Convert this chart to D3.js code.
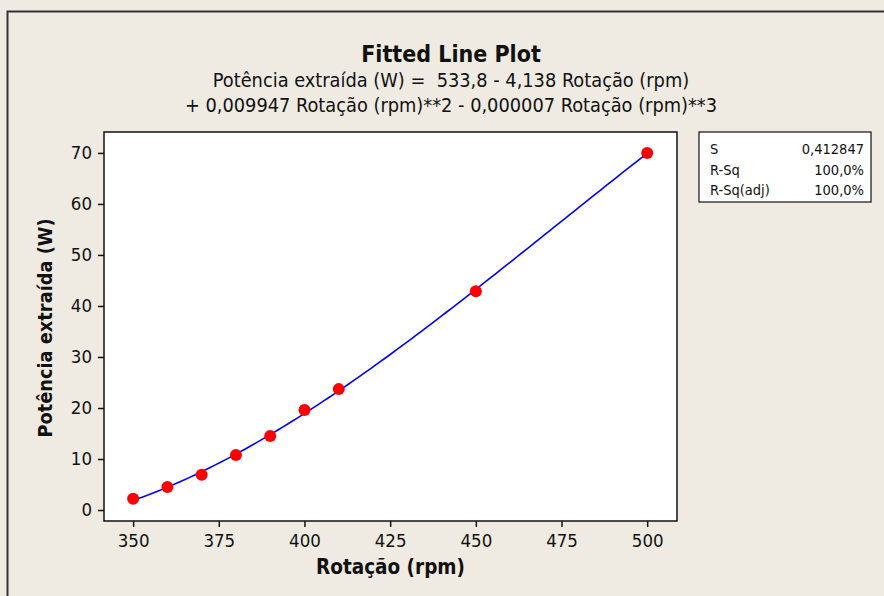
<!DOCTYPE html>
<html>
<head>
<meta charset="utf-8">
<script src="https://cdn.jsdelivr.net/npm/d3@7"></script>
<style>
  body { margin: 0; background: #efebe2; }
  svg { display: block; }
  .tick text { font-family: 'DejaVu Sans Condensed', 'DejaVu Sans', sans-serif; font-size: 18.5px; fill: #111; }
</style>
</head>
<body>
<div id="vis"></div>
<script>
// basic frame setup
const FRAME_WIDTH = 884;
const FRAME_HEIGHT = 596;
const MARGINS = {left: 104, right: 207, top: 132, bottom: 75};
const VIS_WIDTH = FRAME_WIDTH - MARGINS.left - MARGINS.right;
const VIS_HEIGHT = FRAME_HEIGHT - MARGINS.top - MARGINS.bottom;
const FONT = "'DejaVu Sans Condensed', 'DejaVu Sans', sans-serif";

// data
const rotacao = [350, 360, 370, 380, 390, 400, 410, 450, 500];
const potencia = [2.2, 4.5, 6.9, 10.8, 14.5, 19.6, 23.7, 42.9, 70.0];
const xTicks = [350, 375, 400, 425, 450, 475, 500];
const yTicks = [0, 10, 20, 30, 40, 50, 60, 70];
const statLabels = ['S', 'R-Sq', 'R-Sq(adj)'];
const statValues = ['0,412847', '100,0%', '100,0%'];

const FRAME = d3.select('#vis')
    .append('svg')
    .attr('width', FRAME_WIDTH)
    .attr('height', FRAME_HEIGHT);

// outer border (runs off the right and bottom edges)
FRAME.append('rect')
    .attr('x', 7.5).attr('y', 11.5)
    .attr('width', FRAME_WIDTH).attr('height', FRAME_HEIGHT)
    .attr('fill', '#efebe2')
    .attr('stroke', '#333').attr('stroke-width', 2);

const X_SCALE = d3.scaleLinear().domain([341.5, 508.7]).range([0, VIS_WIDTH]);
const Y_SCALE = d3.scaleLinear().domain([-2.15, 74.1]).range([VIS_HEIGHT, 0]);

const G = FRAME.append('g').attr('transform', 'translate(' + MARGINS.left + ',' + MARGINS.top + ')');

G.append('rect')
    .attr('width', VIS_WIDTH).attr('height', VIS_HEIGHT)
    .attr('fill', 'white');

// cubic least squares fit of the points (x centred for stability)
function cubicFit(xs, ys) {
    const n = 4;
    const A = [], b = [];
    for (let i = 0; i < n; i++) { A.push([0, 0, 0, 0]); b.push(0); }
    xs.forEach((x, k) => {
        const u = (x - 400) / 50;
        for (let i = 0; i < n; i++) {
            for (let j = 0; j < n; j++) A[i][j] += Math.pow(u, i + j);
            b[i] += ys[k] * Math.pow(u, i);
        }
    });
    for (let i = 0; i < n; i++) {
        for (let r = i + 1; r < n; r++) {
            const f = A[r][i] / A[i][i];
            for (let c = i; c < n; c++) A[r][c] -= f * A[i][c];
            b[r] -= f * b[i];
        }
    }
    const coef = [0, 0, 0, 0];
    for (let i = n - 1; i >= 0; i--) {
        let s = b[i];
        for (let c = i + 1; c < n; c++) s -= A[i][c] * coef[c];
        coef[i] = s / A[i][i];
    }
    return (x) => {
        const u = (x - 400) / 50;
        return coef[0] + coef[1] * u + coef[2] * u * u + coef[3] * u * u * u;
    };
}
const fit = cubicFit(rotacao, potencia);
const fitX = d3.range(350, 500.01, 1.5);

G.append('path')
    .datum(fitX)
    .attr('d', d3.line().x((d) => X_SCALE(d)).y((d) => Y_SCALE(fit(d))))
    .attr('fill', 'none')
    .attr('stroke', '#0000ff')
    .attr('stroke-width', 1.6);

G.selectAll('points')
    .data(rotacao)
    .enter()
    .append('circle')
    .attr('cx', (d) => X_SCALE(d))
    .attr('cy', (d, i) => Y_SCALE(potencia[i]))
    .attr('r', 6)
    .attr('fill', '#ff0000');

// plot border
G.append('rect')
    .attr('width', VIS_WIDTH).attr('height', VIS_HEIGHT)
    .attr('fill', 'none')
    .attr('stroke', '#111').attr('stroke-width', 1.5);

// axes
G.append('g')
    .attr('transform', 'translate(0,' + VIS_HEIGHT + ')')
    .call(d3.axisBottom(X_SCALE).tickValues(xTicks).tickSize(6).tickPadding(7))
    .call((g) => g.select('.domain').remove())
    .call((g) => g.selectAll('.tick line').attr('stroke', '#111').attr('stroke-width', 1.5));

G.append('g')
    .call(d3.axisLeft(Y_SCALE).tickValues(yTicks).tickSize(6).tickPadding(6))
    .call((g) => g.select('.domain').remove())
    .call((g) => g.selectAll('.tick line').attr('stroke', '#111').attr('stroke-width', 1.5));

// titles
const TITLE_X = 451;
FRAME.append('text')
    .attr('x', TITLE_X).attr('y', 62)
    .attr('text-anchor', 'middle')
    .attr('font-family', FONT).attr('font-size', '23px').attr('font-weight', 'bold')
    .attr('fill', '#111')
    .text('Fitted Line Plot');

FRAME.append('text')
    .attr('x', TITLE_X).attr('y', 87)
    .attr('text-anchor', 'middle')
    .attr('font-family', FONT).attr('font-size', '19.8px')
    .attr('fill', '#111')
    .attr('xml:space', 'preserve')
    .text('Potência extraída (W) =  533,8 - 4,138 Rotação (rpm)');

FRAME.append('text')
    .attr('x', TITLE_X).attr('y', 112)
    .attr('text-anchor', 'middle')
    .attr('font-family', FONT).attr('font-size', '19.8px')
    .attr('fill', '#111')
    .text('+ 0,009947 Rotação (rpm)**2 - 0,000007 Rotação (rpm)**3');

FRAME.append('text')
    .attr('x', MARGINS.left + VIS_WIDTH / 2).attr('y', 574)
    .attr('text-anchor', 'middle')
    .attr('font-family', FONT).attr('font-size', '20.5px').attr('font-weight', 'bold')
    .attr('fill', '#111')
    .text('Rotação (rpm)');

FRAME.append('text')
    .attr('transform', 'translate(52,328) rotate(-90)')
    .attr('text-anchor', 'middle')
    .attr('font-family', FONT).attr('font-size', '19.8px').attr('font-weight', 'bold')
    .attr('fill', '#111')
    .text('Potência extraída (W)');

// stats box
const BOX = FRAME.append('g').attr('transform', 'translate(699,132)');
BOX.append('rect')
    .attr('width', 172).attr('height', 70)
    .attr('fill', 'white')
    .attr('stroke', '#111').attr('stroke-width', 1.2);
BOX.selectAll('labels')
    .data(statLabels)
    .enter()
    .append('text')
    .attr('x', 11)
    .attr('y', (d, i) => 22 + i * 20.5)
    .attr('font-family', FONT).attr('font-size', '14.5px')
    .attr('fill', '#111')
    .text((d) => d);
BOX.selectAll('values')
    .data(statValues)
    .enter()
    .append('text')
    .attr('x', 165)
    .attr('y', (d, i) => 22 + i * 20.5)
    .attr('text-anchor', 'end')
    .attr('font-family', FONT).attr('font-size', '14.5px')
    .attr('fill', '#111')
    .text((d) => d);
</script>
</body>
</html>
